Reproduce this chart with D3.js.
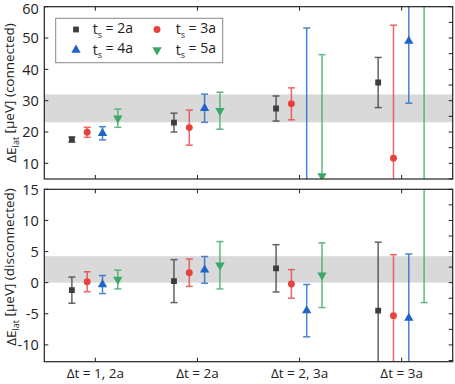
<!DOCTYPE html>
<html><head><meta charset="utf-8">
<script src="https://cdn.jsdelivr.net/npm/d3@7"></script>
<style>body{margin:0;background:#fff}svg{display:block}text{font-family:"Open Sans",sans-serif;fill:#222}</style>
</head><body>
<svg id="c" width="455" height="384"></svg>
<script>
const categories = ["Δt = 1, 2a", "Δt = 2a", "Δt = 2, 3a", "Δt = 3a"];
const seriesNames = ["2a", "3a", "4a", "5a"];
const seriesColors = ["#3d3d3d", "#e8423f", "#1f65c8", "#3aa866"];
const seriesShapes = ["square", "circle", "triangle", "triangleDown"];
// connected: [series][category]
const connVal = [[17.6, 23.0, 27.5, 35.8],[19.9, 21.4, 29.0, 11.6],[19.6, 27.6, 2.0, 49.0],[24.4, 26.8, 6.0, 70.0]];
const connErr = [[0.8, 3.0, 4.0, 8.0],[1.6, 5.6, 5.1, 42.5],[2.1, 4.5, 51.2, 19.8],[2.9, 5.9, 38.7, 70.0]];
const discVal = [[-1.2, 0.25, 2.3, -4.5],[0.15, 1.6, -0.2, -5.3],[-0.3, 2.05, -4.5, -5.7],[0.5, 2.8, 1.2, 20.0]];
const discErr = [[2.1, 3.45, 3.8, 11.0],[1.6, 2.2, 2.3, 9.8],[1.45, 2.15, 4.2, 10.3],[1.5, 3.8, 5.2, 23.2]];
const connBand = [23.1, 32.0];
const discBand = [0, 4.25];
const connTicks = [10, 20, 30, 40, 50, 60];
const discTicks = [-10, -5, 0, 5, 10, 15];
const offsets = [-0.23, -0.08, 0.07, 0.22];

const svg = d3.select("#c");
const L = 44.3, R = 452.7;
const x = d3.scaleLinear().domain([0.5, 4.5]).range([L, R]);

const panels = [
  {top: 6.7, bottom: 179, domain: [5, 60], vals: connVal, errs: connErr, band: connBand, ticks: connTicks, minor: d3.range(5, 61, 5), label: "(connected)", labelY: 93},
  {top: 189.3, bottom: 361.7, domain: [-12.7, 15], vals: discVal, errs: discErr, band: discBand, ticks: discTicks, minor: d3.range(-12.5, 15.1, 2.5), label: "(disconnected)", labelY: 267}
];

const sym = {
  square: d3.symbol().type(d3.symbolSquare).size(34),
  circle: d3.symbol().type(d3.symbolCircle).size(38),
  triangle: d3.symbol().type(d3.symbolTriangle).size(38),
  triangleDown: d3.symbol().type(d3.symbolTriangle).size(38)
};

panels.forEach((p, pi) => {
  const y = d3.scaleLinear().domain(p.domain).range([p.bottom, p.top]);
  const g = svg.append("g");
  const cid = "clip" + pi;
  svg.append("clipPath").attr("id", cid).append("rect")
    .attr("x", L).attr("y", p.top).attr("width", R - L).attr("height", p.bottom - p.top);
  const pg = g.append("g").attr("clip-path", `url(#${cid})`);
  pg.append("rect").attr("x", L).attr("width", R - L)
    .attr("y", y(p.band[1])).attr("height", y(p.band[0]) - y(p.band[1])).attr("fill", "#d9d9d9");
  p.vals.forEach((sv, si) => {
    sv.forEach((v, ci) => {
      const cx = x(ci + 1 + offsets[si]);
      const e = p.errs[si][ci];
      const col = seriesColors[si];
      const eg = pg.append("g").attr("stroke", col).attr("stroke-width", 1.5).attr("opacity", 0.8);
      eg.append("line").attr("x1", cx).attr("x2", cx).attr("y1", y(v - e)).attr("y2", y(v + e));
      eg.append("line").attr("x1", cx - 3.5).attr("x2", cx + 3.5).attr("y1", y(v - e)).attr("y2", y(v - e));
      eg.append("line").attr("x1", cx - 3.5).attr("x2", cx + 3.5).attr("y1", y(v + e)).attr("y2", y(v + e));
      const sh = seriesShapes[si];
      pg.append("path").attr("d", sym[sh]())
        .attr("transform", `translate(${cx},${y(v)})` + (sh === "triangleDown" ? " rotate(180)" : ""))
        .attr("fill", col);
    });
  });
  // frame
  g.append("rect").attr("x", L).attr("y", p.top).attr("width", R - L).attr("height", p.bottom - p.top)
    .attr("fill", "none").attr("stroke", "#222").attr("stroke-width", 1.2);
  // left ticks
  const ax = g.append("g").attr("stroke", "#222").attr("stroke-width", 1);
  p.ticks.forEach(t => {
    ax.append("line").attr("x1", L).attr("x2", L + 4).attr("y1", y(t)).attr("y2", y(t));
    g.append("text").attr("x", L - 5.5).attr("y", Math.max(y(t), 9)).attr("dy", "0.36em").attr("text-anchor", "end")
      .attr("font-size", 14.5).text(t);
  });
  p.minor.forEach(t => {
    if (t < p.domain[0] || t > p.domain[1]) return;
    ax.append("line").attr("x1", R).attr("x2", R - 4).attr("y1", y(t)).attr("y2", y(t));
  });
  categories.forEach((c, ci) => {
    const cx = x(ci + 1);
    ax.append("line").attr("x1", cx).attr("x2", cx).attr("y1", p.top).attr("y2", p.top + 4);
    ax.append("line").attr("x1", cx).attr("x2", cx).attr("y1", p.bottom).attr("y2", p.bottom - 4);
  });
  // y label
  const yl = g.append("text").attr("transform", `translate(11,${p.labelY}) rotate(-90)`)
    .attr("text-anchor", "middle").attr("dy", "0.35em").attr("font-size", 13.5);
  yl.append("tspan").text("ΔE");
  yl.append("tspan").attr("font-size", 9).attr("dy", "0.35em").text("lat");
  yl.append("tspan").attr("dy", "-0.35em").text(" [μeV] " + p.label);
});

// x labels
categories.forEach((c, ci) => {
  svg.append("text").attr("x", x(ci + 1)).attr("y", 378).attr("text-anchor", "middle")
    .attr("font-size", 13.5).text(c);
});

// legend
const lg = svg.append("g");
lg.append("rect").attr("x", 55.7).attr("y", 18.3).attr("width", 167).attr("height", 44.4)
  .attr("fill", "#fff").attr("stroke", "#888").attr("stroke-width", 1);
const lx = [76, 157], tx = [92.7, 175.7], ly = [29.5, 50];
seriesNames.forEach((n, si) => {
  const col = si % 2, row = Math.floor(si / 2);
  const sh = seriesShapes[si];
  lg.append("path").attr("d", sym[sh]())
    .attr("transform", `translate(${lx[col]},${ly[row]})` + (sh === "triangleDown" ? " rotate(180)" : ""))
    .attr("fill", seriesColors[si]);
  const t = lg.append("text").attr("x", tx[col]).attr("y", ly[row]).attr("dy", "0.35em").attr("font-size", 14);
  t.append("tspan").text("t");
  t.append("tspan").attr("font-size", 9).attr("dy", "0.35em").text("s");
  t.append("tspan").attr("dy", "-0.35em").text(" = " + n);
});
</script>
</body></html>
